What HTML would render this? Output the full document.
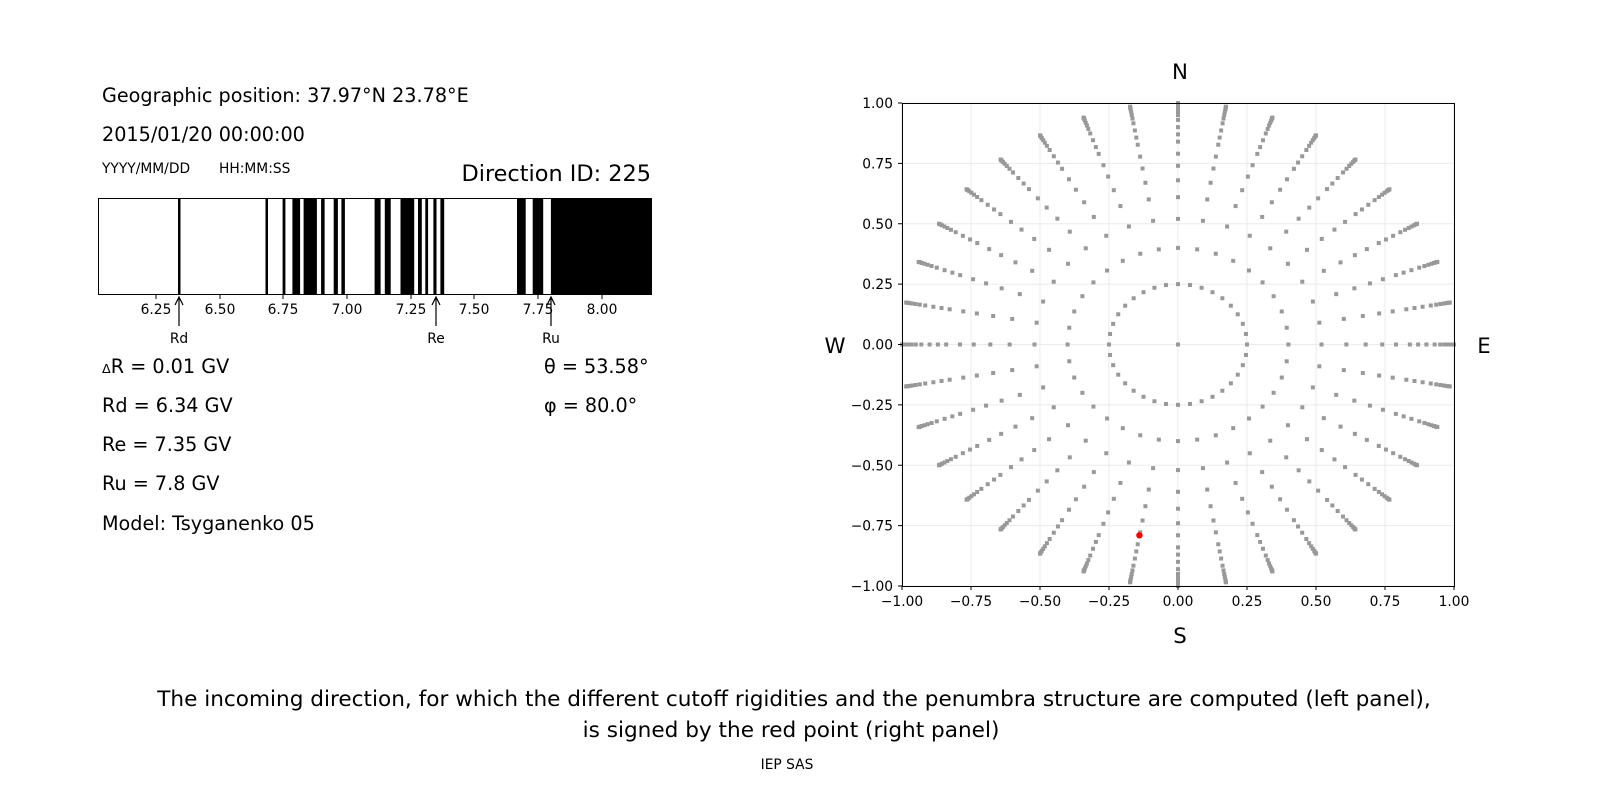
<!DOCTYPE html>
<html><head><meta charset="utf-8">
<style>
html,body{margin:0;padding:0;background:#fff;overflow:hidden;width:1600px;height:800px;}
svg{display:block;}
svg text{font-family:"DejaVu Sans","Liberation Sans",sans-serif;fill:#000;}
</style></head>
<body>
<svg id="s" width="1600" height="800" viewBox="0 0 1600 800" xmlns="http://www.w3.org/2000/svg">
<rect width="1600" height="800" fill="#fff"/>
<text x="102" y="102" font-size="19.2">Geographic position: 37.97°N 23.78°E</text>
<text x="102" y="141" font-size="19.2">2015/01/20 00:00:00</text>
<text x="102" y="173" font-size="13.8">YYYY/MM/DD</text>
<text x="219" y="173" font-size="13.8">HH:MM:SS</text>
<text x="651" y="181" font-size="22.4" text-anchor="end">Direction ID: 225</text>
<g id="bar"></g>
<rect x="98.5" y="198.5" width="553" height="96" fill="none" stroke="#000" stroke-width="1"/>
<g font-size="13.8" text-anchor="middle">
<text x="156" y="314">6.25</text><text x="220" y="314">6.50</text><text x="283" y="314">6.75</text>
<text x="347" y="314">7.00</text><text x="411" y="314">7.25</text><text x="474" y="314">7.50</text>
<text x="538" y="314">7.75</text><text x="602" y="314">8.00</text>
<text x="179" y="343">Rd</text><text x="436" y="343">Re</text><text x="551" y="343">Ru</text>
</g>
<g stroke="#000" stroke-width="1.2" fill="none">
<path d="M179 326V298M175 305L179 297L183 305"/>
<path d="M436 326V298M432 305L436 297L440 305"/>
<path d="M551 326V298M547 305L551 297L555 305"/>
</g>
<g stroke="#000" stroke-width="1">
<line x1="156" y1="295" x2="156" y2="299"/><line x1="220" y1="295" x2="220" y2="299"/><line x1="283" y1="295" x2="283" y2="299"/><line x1="347" y1="295" x2="347" y2="299"/><line x1="411" y1="295" x2="411" y2="299"/><line x1="474" y1="295" x2="474" y2="299"/><line x1="538" y1="295" x2="538" y2="299"/><line x1="602" y1="295" x2="602" y2="299"/>
</g>
<g font-size="19.2">
<text x="102" y="373"><tspan font-size="12.8">Δ</tspan>R = 0.01 GV</text>
<text x="102" y="412">Rd = 6.34 GV</text>
<text x="102" y="451">Re = 7.35 GV</text>
<text x="102" y="490">Ru = 7.8 GV</text>
<text x="102" y="530">Model: Tsyganenko 05</text>
<text x="544" y="373">θ = 53.58°</text>
<text x="544" y="412">φ = 80.0°</text>
</g>
<g id="grid"></g>
<g id="pts"></g>
<circle cx="1139.4" cy="535.3" r="3.2" fill="#ff0000"/>
<rect x="902.5" y="103.5" width="552" height="483" fill="none" stroke="#000" stroke-width="1"/>
<g id="tk" font-size="13.8"></g>
<g font-size="21.3" text-anchor="middle">
<text x="1180" y="79">N</text><text x="1180" y="643">S</text>
<text x="835" y="353">W</text><text x="1484" y="353">E</text>
</g>
<g font-size="21.6" text-anchor="middle">
<text x="794" y="706">The incoming direction, for which the different cutoff rigidities and the penumbra structure are computed (left panel),</text>
<text x="791" y="737">is signed by the red point (right panel)</text>
</g>
<text x="787" y="769" font-size="13.8" text-anchor="middle">IEP SAS</text>
</svg>
<script>
var NS="http://www.w3.org/2000/svg";
function el(p,t,a){var e=document.createElementNS(NS,t);for(var k in a)e.setAttribute(k,a[k]);p.appendChild(e);return e;}
var bar=document.getElementById('bar');
var bands=[[178,180.5],[265.5,268],[282.6,285.4],[292.4,300.1],[303.6,316.9],[321.1,324.6],[333.7,337.9],[341.4,344.9],[374.6,380.6],[384.8,390.7],[400.5,414.2],[418,421.8],[425.3,428.1],[433.4,436.5],[440.4,444.2],[517,525.7],[532.7,543.2],[550.9,651]];
bands.forEach(function(b){el(bar,'rect',{x:b[0],y:198,width:b[1]-b[0],height:96,fill:'#000'});});
var cx=1178,cy=344.5,sx=276,sy=241.5;
var g=document.getElementById('grid'),tk=document.getElementById('tk');
[-1,-0.75,-0.5,-0.25,0,0.25,0.5,0.75,1].forEach(function(v){
 var X=cx+v*sx,Y=cy-v*sy;
 el(g,'line',{x1:X,y1:103,x2:X,y2:586,stroke:'#ebebeb','stroke-width':1});
 el(g,'line',{x1:902,y1:Y,x2:1454,y2:Y,stroke:'#ebebeb','stroke-width':1});
 el(tk,'line',{x1:X,y1:586,x2:X,y2:590,stroke:'#000'});
 el(tk,'line',{x1:898,y1:Y,x2:902,y2:Y,stroke:'#000'});
 var s=(v<0?'\u2212':'')+Math.abs(v).toFixed(2);
 var t=el(tk,'text',{x:X,y:606,'text-anchor':'middle'});t.textContent=s;
 var t2=el(tk,'text',{x:893,y:Y+5,'text-anchor':'end'});t2.textContent=s;
});
var p=document.getElementById('pts');
var R=[0.25,0.40,0.52,0.61,0.68,0.74,0.79,0.84,0.87,0.90,0.93,0.95,0.965,0.977,0.987,0.994,0.998,1.0];
el(p,'rect',{x:cx-2,y:cy-2,width:4,height:4,fill:'#999'});
for(var i=0;i<36;i++){
 var a=i*10*Math.PI/180;
 R.forEach(function(r,j){
  var X=cx+r*Math.sin(a)*sx,Y=cy-r*Math.cos(a)*sy;
  el(p,'rect',{x:X-2,y:Y-2,width:4,height:4,fill:'#999'});
 });
}
</script>
</body></html>
